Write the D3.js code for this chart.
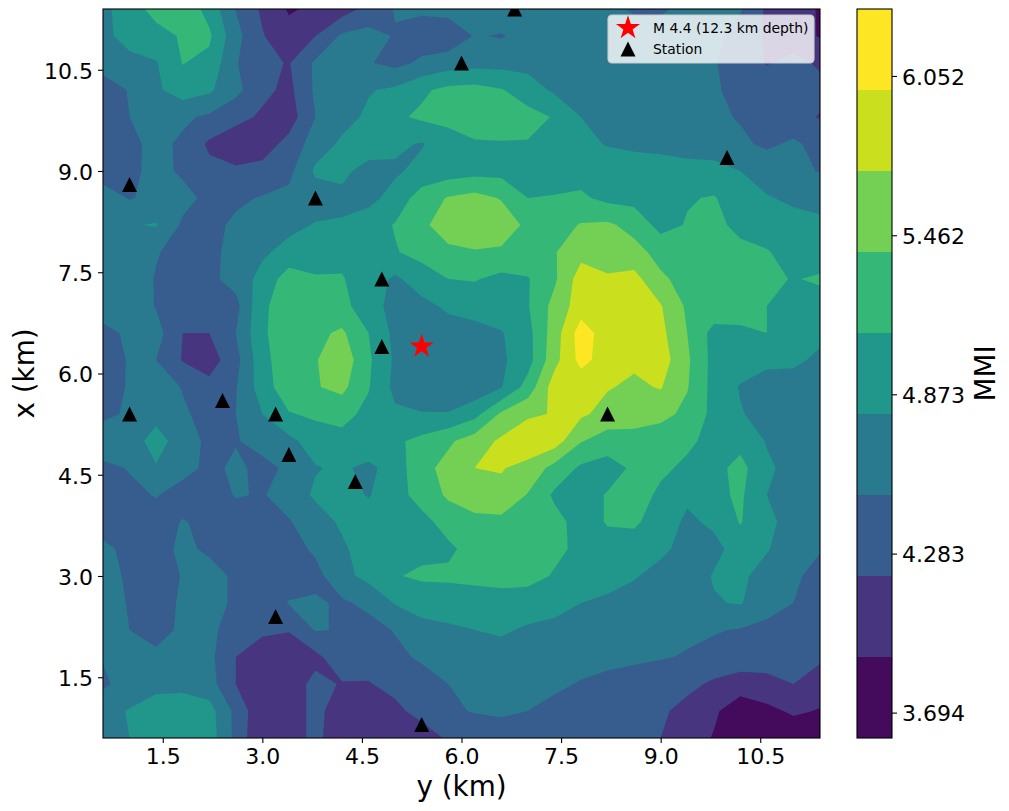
<!DOCTYPE html>
<html>
<head>
<meta charset="utf-8">
<script src="https://cdn.jsdelivr.net/npm/d3@7"></script>
<style>
  html, body { margin: 0; padding: 0; background: #fff; }
  text { font-family: "DejaVu Sans", sans-serif; fill: #000; }
</style>
</head>
<body>
<svg class="viz" width="1009" height="811"></svg>
<script>
// MMI, rows from x = 11.4 km down to x = 0.6 km, 0.4 km apart
var mmiGrid = [
  [4.72,4.97,5.20,5.30,5.00,4.49,4.15,3.87,3.95,4.05,4.30,4.52,4.55,4.60,4.65,4.70,4.75,4.78,4.70,4.60,4.45,4.45,4.60,4.60,4.52,4.15,4.00,3.88],
  [4.70,4.95,5.00,5.13,5.15,4.60,4.22,4.00,4.20,4.55,4.60,4.48,4.35,4.30,4.52,4.48,4.60,4.65,4.68,4.68,4.68,4.66,4.62,4.55,4.42,4.15,4.02,3.88],
  [4.62,4.68,4.78,5.11,5.02,4.52,4.28,4.18,4.55,4.62,4.52,4.42,4.55,4.65,4.70,4.70,4.70,4.70,4.70,4.70,4.65,4.62,4.60,4.52,4.38,4.18,4.30,4.15],
  [4.35,4.52,4.75,4.95,4.85,4.58,4.28,4.12,4.55,4.68,4.78,4.85,5.05,5.18,5.20,5.12,4.95,4.75,4.68,4.65,4.62,4.58,4.55,4.52,4.45,4.40,4.35,4.30],
  [4.35,4.50,4.62,4.55,4.45,4.30,4.15,4.05,4.50,4.70,4.85,5.05,5.15,5.20,5.25,5.25,5.20,5.08,4.80,4.72,4.68,4.65,4.60,4.55,4.48,4.40,4.30,4.18],
  [4.35,4.43,4.58,4.45,4.15,4.00,4.05,4.30,4.65,4.85,4.92,4.85,4.78,4.95,5.07,5.08,5.08,5.00,4.88,4.78,4.72,4.68,4.62,4.65,4.55,4.45,4.55,4.40],
  [4.35,4.42,4.60,4.45,4.28,4.25,4.30,4.42,4.85,4.85,4.72,4.76,4.88,4.95,5.00,5.00,4.98,4.96,4.98,5.00,5.00,5.00,4.95,4.90,4.80,4.68,4.60,4.48],
  [4.65,4.48,4.58,4.60,4.42,4.45,4.52,4.58,4.65,4.75,4.72,4.90,5.25,5.42,5.50,5.38,5.10,5.12,5.15,5.02,5.00,5.02,5.08,5.12,4.95,4.82,4.75,4.72],
  [4.65,4.78,4.82,4.45,4.42,4.55,4.60,4.72,4.82,4.82,4.95,5.12,5.35,5.52,5.60,5.58,5.33,5.28,5.42,5.45,5.30,5.00,5.12,5.15,5.05,4.95,4.90,4.85],
  [4.65,4.72,4.52,4.40,4.42,4.60,4.75,4.90,5.00,5.02,5.05,5.08,5.20,5.35,5.38,5.35,5.30,5.38,5.60,5.50,5.50,5.30,5.20,5.15,5.15,5.12,4.98,4.90],
  [4.65,4.68,4.48,4.42,4.42,4.62,4.90,5.25,5.12,5.12,4.95,4.75,4.95,5.10,5.12,5.02,5.08,5.35,5.85,5.75,5.80,5.45,5.30,5.25,5.20,5.18,5.08,5.15],
  [4.65,4.72,4.48,4.40,4.35,4.40,5.05,5.25,5.18,5.18,4.95,4.68,4.72,4.85,4.92,4.98,5.08,5.50,5.85,5.88,5.85,5.72,5.35,5.30,5.22,5.10,5.02,4.95],
  [4.42,4.55,4.62,4.20,4.20,4.50,5.05,5.30,5.33,5.45,5.10,4.72,4.65,4.68,4.70,4.78,5.00,5.55,6.15,5.85,5.90,5.78,5.40,5.00,5.05,5.10,4.95,4.90],
  [4.38,4.52,4.50,4.18,4.05,4.40,5.00,5.30,5.38,5.60,5.15,4.75,4.70,4.78,4.68,4.75,4.98,5.60,6.10,5.85,5.75,5.85,5.45,5.00,4.95,4.88,4.88,4.72],
  [4.40,4.52,4.70,4.48,4.30,4.48,4.95,5.30,5.38,5.48,5.12,4.72,4.58,4.55,4.60,4.78,5.22,5.85,5.80,5.72,5.65,5.72,5.42,5.00,4.78,4.65,4.62,4.60],
  [4.42,4.55,4.72,4.55,4.38,4.50,4.80,5.08,5.15,5.20,5.02,4.85,4.82,4.82,5.00,5.45,5.65,5.72,5.75,5.60,5.58,5.50,5.32,5.02,4.82,4.70,4.65,4.62],
  [4.72,4.68,4.90,4.68,4.42,4.48,4.60,4.72,4.95,5.00,5.05,5.05,5.18,5.35,5.55,5.75,5.92,5.85,5.42,5.25,5.25,5.20,5.15,5.02,5.00,4.78,4.72,4.65],
  [4.42,4.52,4.78,4.62,4.42,4.56,4.42,4.55,4.78,4.85,4.72,4.95,5.30,5.50,5.70,5.72,5.60,5.30,5.05,4.98,5.15,5.15,5.05,5.00,5.20,4.85,4.70,4.62],
  [4.35,4.42,4.52,4.35,4.35,4.52,4.48,4.62,4.85,4.92,4.78,5.00,5.20,5.45,5.60,5.62,5.38,5.05,4.98,5.12,5.22,5.05,4.85,5.02,5.15,4.80,4.70,4.62],
  [4.30,4.32,4.35,4.52,4.42,4.35,4.40,4.48,4.65,4.85,4.95,5.00,5.02,5.20,5.30,5.32,5.30,5.20,4.98,5.12,5.15,4.95,4.75,4.85,5.12,4.85,4.72,4.62],
  [4.60,4.38,4.32,4.60,4.42,4.30,4.32,4.38,4.55,4.75,4.95,5.00,5.02,5.05,5.20,5.25,5.30,5.15,5.05,5.00,4.95,4.85,4.72,4.72,4.92,4.82,4.65,4.52],
  [4.62,4.45,4.32,4.52,4.68,4.42,4.30,4.32,4.40,4.72,4.88,5.08,5.15,5.15,5.18,5.20,5.18,5.08,4.98,4.90,4.82,4.72,4.65,4.82,4.85,4.70,4.55,4.40],
  [4.62,4.48,4.35,4.55,4.68,4.42,4.28,4.52,4.55,4.45,4.58,4.82,4.90,4.95,4.95,4.98,4.98,4.90,4.80,4.75,4.70,4.62,4.62,4.78,4.82,4.62,4.50,4.35],
  [4.62,4.50,4.30,4.60,4.55,4.40,4.25,4.22,4.52,4.48,4.38,4.52,4.72,4.75,4.80,4.85,4.75,4.72,4.70,4.65,4.62,4.58,4.55,4.52,4.48,4.42,4.35,4.28],
  [4.52,4.55,4.62,4.62,4.58,4.20,4.05,3.98,4.12,4.40,4.35,4.42,4.55,4.60,4.62,4.65,4.65,4.62,4.60,4.58,4.55,4.52,4.48,4.42,4.38,4.32,4.30,4.25],
  [4.45,4.62,4.68,4.68,4.62,4.20,3.98,4.05,4.28,4.18,4.18,4.30,4.35,4.50,4.58,4.60,4.58,4.55,4.48,4.42,4.38,4.32,4.28,4.15,4.05,4.12,4.20,4.05],
  [4.70,4.82,5.00,5.05,4.92,4.42,3.95,4.05,4.28,4.05,3.98,4.12,4.32,4.45,4.52,4.56,4.50,4.42,4.38,4.32,4.30,4.25,4.10,3.95,3.72,3.82,3.95,3.88],
  [4.75,4.80,5.00,5.05,4.95,4.42,3.90,4.05,4.28,4.00,3.98,3.95,4.02,4.25,4.28,4.30,4.30,4.28,4.28,4.25,4.22,4.20,4.05,3.88,3.70,3.65,3.68,3.72]
];

var levels = [3.6, 3.9, 4.2, 4.5, 4.8, 5.1, 5.4, 5.7, 6.0, 6.3];
var bandColors = ["#440a5c", "#48357f", "#365d8d", "#297a8e", "#21968b", "#35b778", "#73d055", "#cae01e", "#fde725"];

var xTicks = [1.5, 3.0, 4.5, 6.0, 7.5, 9.0, 10.5];
var yTicks = [1.5, 3.0, 4.5, 6.0, 7.5, 9.0, 10.5];
var cbarTicks = [3.694, 4.283, 4.873, 5.462, 6.052];

// horizontal axis is y (km), vertical axis is x (km)
var stationY = [1.0, 1.0, 2.4, 3.2, 3.4, 3.2, 3.8, 4.8, 4.8, 4.4, 5.4, 6.0, 6.8, 8.2, 10.0];
var stationX = [8.8, 5.4, 5.6, 5.4, 4.8, 2.4, 8.6, 7.4, 6.4, 4.4, 0.8, 10.6, 11.4, 5.4, 9.2];
var quakeY = [5.4];
var quakeX = [6.4];

var svg = d3.select(".viz"),
    margin = {top: 9, right: 189, bottom: 73, left: 103},
    width = 1009 - margin.left - margin.right,
    height = 811 - margin.top - margin.bottom;

var xScale = d3.scaleLinear().domain([0.6, 11.4]).range([0, width]);
var yScale = d3.scaleLinear().domain([0.6, 11.4]).range([height, 0]);

var g = svg.append("g")
    .attr("transform", "translate(" + margin.left + "," + margin.top + ")");

svg.append("defs").append("clipPath")
    .attr("id", "plot-clip")
  .append("rect")
    .attr("width", width)
    .attr("height", height);

// d3.contours puts grid point i at i + 0.5
var nRows = mmiGrid.length,
    nCols = mmiGrid[0].length;
var colToKm = d3.scaleLinear().domain([0.5, nCols - 0.5]).range([0.6, 11.4]);
var rowToKm = d3.scaleLinear().domain([0.5, nRows - 0.5]).range([11.4, 0.6]);

var contours = d3.contours()
    .size([nCols, nRows])
    .thresholds(levels.slice(0, -1))(d3.merge(mmiGrid));

var path = d3.geoPath(d3.geoTransform({
  point: function(c, r) {
    this.stream.point(xScale(colToKm(c)), yScale(rowToKm(r)));
  }
}));

var plot = g.append("g").attr("clip-path", "url(#plot-clip)");

plot.selectAll("path.band")
    .data(contours)
  .enter().append("path")
    .attr("class", "band")
    .attr("d", path)
    .attr("fill", function(d, i) { return bandColors[i]; });

// matplotlib's "^" is as tall as it is wide
var triangleUp = {
  draw: function(context, size) {
    var r = Math.sqrt(size) / 2;
    context.moveTo(0, -r);
    context.lineTo(r, r);
    context.lineTo(-r, r);
    context.closePath();
  }
};
var triangleSymbol = d3.symbol().type(triangleUp).size(225);
var starSymbol = d3.symbol().type(d3.symbolStar).size(180);

plot.selectAll("path.station")
    .data(stationY)
  .enter().append("path")
    .attr("class", "station")
    .attr("d", triangleSymbol)
    .attr("fill", "#000")
    .attr("transform", function(d, i) {
      return "translate(" + xScale(d) + "," + yScale(stationX[i]) + ")";
    });

plot.selectAll("path.quake")
    .data(quakeY)
  .enter().append("path")
    .attr("class", "quake")
    .attr("d", starSymbol)
    .attr("fill", "#f00")
    .attr("transform", function(d, i) {
      return "translate(" + xScale(d) + "," + yScale(quakeX[i]) + ")";
    });

// frame and axes
g.append("rect")
    .attr("width", width)
    .attr("height", height)
    .attr("fill", "none")
    .attr("stroke", "#000")
    .attr("stroke-width", 1.1);

var xAxis = g.append("g")
    .attr("transform", "translate(0," + height + ")")
    .call(d3.axisBottom(xScale).tickValues(xTicks).tickFormat(d3.format(".1f")).tickSize(5).tickPadding(5));

var yAxis = g.append("g")
    .call(d3.axisLeft(yScale).tickValues(yTicks).tickFormat(d3.format(".1f")).tickSize(5).tickPadding(5));

[xAxis, yAxis].forEach(function(axis) {
  axis.select(".domain").remove();
  axis.selectAll(".tick line").attr("stroke", "#000").attr("stroke-width", 1.1);
  axis.selectAll("text").attr("font-size", 22).attr("font-family", '"DejaVu Sans"').attr("fill", "#000");
});
yAxis.selectAll("text").attr("dy", "0.38em");

svg.append("text")
    .attr("x", margin.left + width / 2)
    .attr("y", 796)
    .attr("text-anchor", "middle")
    .attr("font-size", 27.8)
    .text("y (km)");

svg.append("text")
    .attr("transform", "translate(34," + (margin.top + height / 2) + ") rotate(-90)")
    .attr("text-anchor", "middle")
    .attr("font-size", 27.8)
    .text("x (km)");

// legend
var legend = g.append("g").attr("transform", "translate(505,6)");

legend.append("rect")
    .attr("width", 206)
    .attr("height", 48)
    .attr("rx", 4)
    .attr("fill", "#fff")
    .attr("fill-opacity", 0.8)
    .attr("stroke", "#ccc")
    .attr("stroke-width", 1.1);

legend.append("path")
    .attr("d", starSymbol)
    .attr("fill", "#f00")
    .attr("transform", "translate(20,13)");

legend.append("path")
    .attr("d", triangleSymbol)
    .attr("fill", "#000")
    .attr("transform", "translate(20,34)");

legend.selectAll("text")
    .data(["M 4.4 (12.3 km depth)", "Station"])
  .enter().append("text")
    .attr("x", 45)
    .attr("y", function(d, i) { return 18 + i * 21; })
    .attr("font-size", 13.9)
    .attr("fill", "#222")
    .text(function(d) { return d; });

// colorbar
var cbarScale = d3.scaleLinear().domain([3.6, 6.3]).range([height, 0]);
var cbar = svg.append("g")
    .attr("transform", "translate(857," + margin.top + ")");

cbar.selectAll("rect.swatch")
    .data(bandColors)
  .enter().append("rect")
    .attr("class", "swatch")
    .attr("width", 35)
    .attr("y", function(d, i) { return cbarScale(levels[i + 1]); })
    .attr("height", function(d, i) { return cbarScale(levels[i]) - cbarScale(levels[i + 1]); })
    .attr("fill", function(d) { return d; });

cbar.append("rect")
    .attr("width", 35)
    .attr("height", height)
    .attr("fill", "none")
    .attr("stroke", "#000")
    .attr("stroke-width", 1.1);

var cbarAxis = cbar.append("g")
    .attr("transform", "translate(35,0)")
    .call(d3.axisRight(cbarScale).tickValues(cbarTicks).tickFormat(d3.format(".3f")).tickSize(5).tickPadding(5));

cbarAxis.select(".domain").remove();
cbarAxis.selectAll(".tick line").attr("stroke", "#000").attr("stroke-width", 1.1);
cbarAxis.selectAll("text").attr("font-size", 22).attr("dy", "0.38em").attr("font-family", '"DejaVu Sans"').attr("fill", "#000");

svg.append("text")
    .attr("transform", "translate(995," + (margin.top + height / 2) + ") rotate(-90)")
    .attr("text-anchor", "middle")
    .attr("font-size", 27.8)
    .text("MMI");
</script>
</body>
</html>
